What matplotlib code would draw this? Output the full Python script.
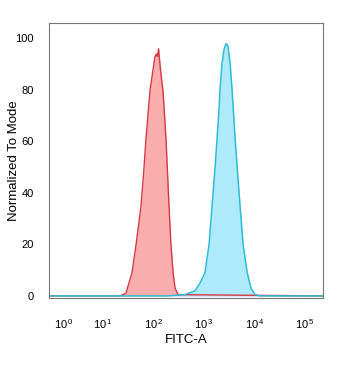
import matplotlib.pyplot as plt
import numpy as np

plt.rcParams["font.family"] = ["Liberation Sans", "DejaVu Sans"]
plt.rcParams["mathtext.fontset"] = "custom"
plt.rcParams["mathtext.rm"] = "Liberation Sans"
plt.rcParams["mathtext.it"] = "Liberation Sans"

# channel positions (0-1000 display scale) and normalized counts
red_x = [0, 259, 281, 303, 318, 336, 347, 354, 361, 369, 380, 387, 392, 396,
         400, 405, 412, 416, 427, 438, 445, 453, 460, 471, 1000]
red_y = [0, 0, 1, 9, 20, 35, 50, 61, 70, 80, 88, 93, 94, 93,
         96, 90, 83, 80, 61, 35, 20, 9, 3, 0.5, 0]

blue_x = [0, 431, 496, 533, 551, 569, 584, 595, 606, 613, 620, 624, 631, 639,
          646, 653, 661, 668, 679, 690, 697, 708, 723, 737, 752, 770, 1000]
blue_y = [0, 0, 0.5, 2, 5, 9, 20, 35, 50, 61, 72, 80, 90, 96,
          98, 97, 90, 80, 61, 45, 35, 20, 9, 3, 0.5, 0, 0]

tick_pos = [55, 197, 383, 566, 752, 934]
tick_lab = ["$10^{\\,0}$", "$10^{\\,1}$", "$10^{\\,2}$", "$10^{\\,3}$", "$10^{\\,4}$", "$10^{\\,5}$"]

fig = plt.figure(figsize=(3.49, 3.65), dpi=100)
ax = fig.add_axes([0.140, 0.1836, 0.786, 0.7534])

ax.fill_between(red_x, red_y, color="#f9a9a9", alpha=0.95, lw=0)
ax.plot(red_x, red_y, color="#d33a45", lw=1.0)
ax.fill_between(blue_x, blue_y, color="#abe9fb", alpha=0.95, lw=0)
ax.plot(blue_x, blue_y, color="#2dbcd6", lw=1.1)

ax.set_xlim(0, 1000)
ax.set_ylim(-0.8, 106)
ax.set_xticks(tick_pos)
ax.set_xticklabels(tick_lab, fontsize=8.5)
ax.set_yticks(range(0, 101, 20))
ax.tick_params(length=0, labelsize=8)
ax.tick_params(axis="x", pad=14)
ax.tick_params(axis="y", pad=11)
for s in ax.spines.values():
    s.set_color("#777777")
    s.set_linewidth(0.8)

ax.set_xlabel("FITC-A", fontsize=9.5, labelpad=2)
ax.set_ylabel("Normalized To Mode", fontsize=9.5)
ax.yaxis.set_label_coords(-0.106, 0.5)

fig.savefig("out.png", dpi=100)
